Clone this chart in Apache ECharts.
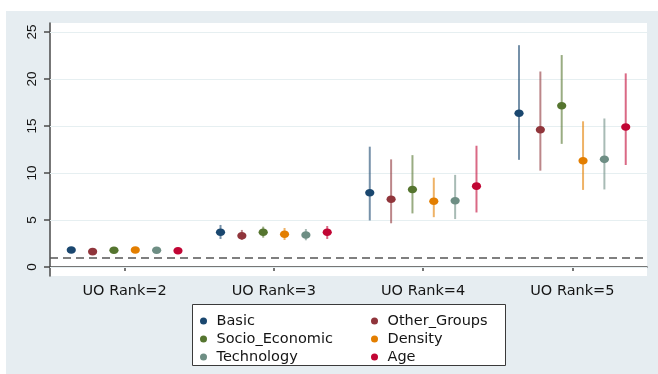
<!DOCTYPE html>
<html>
<head>
<meta charset="utf-8">
<script src="https://cdn.jsdelivr.net/npm/echarts@6/dist/echarts.min.js"></script>
<style>
  html, body { margin: 0; padding: 0; background: #ffffff; }
  #chart { width: 658px; height: 374px; }
</style>
</head>
<body>
<div id="chart"></div>
<script>
// Categories on the x axis
const categories = ['UO Rank=2', 'UO Rank=3', 'UO Rank=4', 'UO Rank=5'];

// Point estimates with lower / upper confidence bounds, one set per model
const basicEst  = [1.80, 3.69, 7.90, 16.35];
const basicLow  = [1.60, 2.98, 4.95, 11.40];
const basicHigh = [2.00, 4.47, 12.80, 23.60];

const otherEst  = [1.63, 3.33, 7.20, 14.60];
const otherLow  = [1.45, 2.87, 4.65, 10.25];
const otherHigh = [1.82, 3.94, 11.45, 20.80];

const socioEst  = [1.78, 3.69, 8.25, 17.15];
const socioLow  = [1.58, 3.12, 5.70, 13.10];
const socioHigh = [1.98, 4.29, 11.90, 22.55];

const densityEst  = [1.80, 3.48, 7.00, 11.30];
const densityLow  = [1.60, 2.87, 5.30, 8.20];
const densityHigh = [2.00, 4.15, 9.50, 15.50];

const techEst  = [1.78, 3.40, 7.05, 11.45];
const techLow  = [1.58, 2.84, 5.10, 8.25];
const techHigh = [1.98, 4.04, 9.80, 15.80];

const ageEst  = [1.73, 3.69, 8.60, 14.90];
const ageLow  = [1.53, 2.98, 5.80, 10.85];
const ageHigh = [1.93, 4.36, 12.90, 20.60];

// y-axis ticks and the reference line (odds ratio = 1)
const yTicks = [0, 5, 10, 15, 20, 25];
const refLine = 1;

const models = [
  { name: 'Basic',          color: '#1a476f', est: basicEst,   low: basicLow,   high: basicHigh },
  { name: 'Other_Groups',   color: '#90353b', est: otherEst,   low: otherLow,   high: otherHigh },
  { name: 'Socio_Economic', color: '#55752f', est: socioEst,   low: socioLow,   high: socioHigh },
  { name: 'Density',        color: '#e37e00', est: densityEst, low: densityLow, high: densityHigh },
  { name: 'Technology',     color: '#6e8e84', est: techEst,    low: techLow,    high: techHigh },
  { name: 'Age',            color: '#c10534', est: ageEst,     low: ageLow,     high: ageHigh }
];

const FONT = 'DejaVu Sans';
const TEXT = '#141414';
const chart = echarts.init(document.getElementById('chart'), null, { renderer: 'canvas' });

function makeSeries(m, k) {
  const n = models.length;
  return {
    name: m.name,
    type: 'custom',
    color: m.color,
    z: 5,
    data: categories.map((c, i) => [i, m.est[i], m.low[i], m.high[i]]),
    renderItem: function (params, api) {
      const band = api.size([1, 0])[0];
      const dx = (k - (n - 1) / 2) * band * 0.143;
      const p = api.coord([api.value(0), api.value(1)]);
      const lo = api.coord([api.value(0), api.value(2)]);
      const hi = api.coord([api.value(0), api.value(3)]);
      const x = p[0] + dx;
      return {
        type: 'group',
        children: [
          {
            type: 'line',
            shape: { x1: x, y1: lo[1], x2: x, y2: hi[1] },
            style: { stroke: m.color, lineWidth: 2, opacity: 0.6 }
          },
          {
            type: 'ellipse',
            shape: { cx: x, cy: p[1], rx: 4.6, ry: 3.8 },
            style: { fill: m.color }
          }
        ]
      };
    }
  };
}

const series = models.map(makeSeries);

// Horizontal grid lines and the dashed reference line
series.push({
  type: 'line',
  data: [],
  silent: true,
  z: 1,
  markLine: {
    silent: true,
    symbol: ['none', 'none'],
    label: { show: false },
    animation: false,
    data: yTicks.map(v => ({ yAxis: v, lineStyle: { color: '#e6eff1', width: 1.2, type: 'solid' } }))
      .concat([{ yAxis: refLine, lineStyle: { color: '#555555', width: 1.7, type: [8, 5] } }])
  }
});

const legendCommon = {
  orient: 'vertical',
  icon: 'circle',
  itemWidth: 16,
  itemHeight: 7,
  itemGap: 2,
  top: 308,
  textStyle: { fontFamily: FONT, fontSize: 14.5, color: TEXT, lineHeight: 16 }
};

const option = {
  animation: false,
  backgroundColor: '#ffffff',
  graphic: [
    {
      type: 'rect',
      z: -10,
      shape: { x: 6, y: 11, width: 652, height: 363 },
      style: { fill: '#e6edf1' },
      silent: true
    },
    {
      type: 'rect',
      z: -5,
      shape: { x: 192.5, y: 304.5, width: 313, height: 61 },
      style: { fill: '#ffffff', stroke: '#3a3a3a', lineWidth: 1 },
      silent: true
    }
  ],
  grid: {
    left: 50, right: 11, top: 23, bottom: 98,
    show: true, backgroundColor: '#ffffff', borderWidth: 0
  },
  legend: [
    Object.assign({}, legendCommon, { left: 195, data: ['Basic', 'Socio_Economic', 'Technology'] }),
    Object.assign({}, legendCommon, { left: 366, data: ['Other_Groups', 'Density', 'Age'] })
  ],
  xAxis: {
    type: 'category',
    data: categories,
    boundaryGap: true,
    axisLine: { show: true, lineStyle: { color: '#4a4a4a', width: 1.5 } },
    axisTick: { show: true, alignWithLabel: true, length: 4, lineStyle: { color: '#4a4a4a', width: 1.5 } },
    axisLabel: { fontFamily: FONT, fontSize: 14.5, color: TEXT, margin: 8 },
    splitLine: { show: false }
  },
  yAxis: {
    type: 'value',
    min: -0.96,
    max: 25.96,
    axisLine: { show: true, lineStyle: { color: '#4a4a4a', width: 1.5 } },
    axisTick: { show: true, length: 6, customValues: yTicks, lineStyle: { color: '#4a4a4a', width: 1.5 } },
    axisLabel: {
      customValues: yTicks,
      rotate: 90,
      margin: 11,
      fontFamily: 'Liberation Sans',
      fontSize: 13.5,
      color: TEXT
    },
    splitLine: { show: false }
  },
  series: series
};

chart.setOption(option);
</script>
</body>
</html>
